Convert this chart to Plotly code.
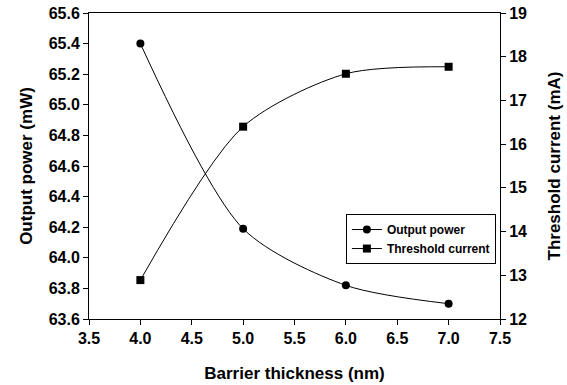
import plotly.graph_objects as go

thickness = [4.0, 5.0, 6.0, 7.0]
output_power = [65.40, 64.19, 63.82, 63.70]
threshold_current = [12.89, 16.40, 17.61, 17.77]

x_ticks = [3.5, 4.0, 4.5, 5.0, 5.5, 6.0, 6.5, 7.0, 7.5]
y1_ticks = [63.6, 63.8, 64.0, 64.2, 64.4, 64.6, 64.8, 65.0, 65.2, 65.4, 65.6]
y2_ticks = [12, 13, 14, 15, 16, 17, 18, 19]

FONT = "Arial"

fig = go.Figure()
fig.add_trace(go.Scatter(
    x=thickness, y=output_power, name="Output power",
    mode="lines+markers", line=dict(color="black", width=1, shape="spline", smoothing=0.8),
    marker=dict(symbol="circle", size=8, color="black"),
))
fig.add_trace(go.Scatter(
    x=thickness, y=threshold_current, name="Threshold current", yaxis="y2",
    mode="lines+markers", line=dict(color="black", width=1, shape="spline", smoothing=0.8),
    marker=dict(symbol="square", size=8, color="black"),
))

tickfont = dict(family=FONT, size=16, color="black", weight=700)
titlefont = dict(family=FONT, size=17, color="black", weight=700)

fig.update_layout(
    width=567, height=385,
    margin=dict(l=89, r=67, t=13, b=66, autoexpand=False),
    paper_bgcolor="white", plot_bgcolor="white",
    showlegend=True,
    legend=dict(
        x=0.625, y=0.343, xanchor="left", yanchor="top",
        bordercolor="black", borderwidth=1, bgcolor="white",
        font=dict(family=FONT, size=12, color="black", weight=700),
        tracegroupgap=0, itemwidth=30,
    ),
    xaxis=dict(
        range=[3.5, 7.5], tickvals=x_ticks, ticktext=[f"{v:.1f}" for v in x_ticks],
        showline=True, linecolor="black", linewidth=1, mirror=True, automargin=False,
        ticks="outside", ticklen=5, tickcolor="black", showgrid=False, zeroline=False,
        tickfont=tickfont,
        title=dict(text="Barrier thickness (nm)", font=titlefont, standoff=20),
    ),
    yaxis=dict(
        range=[63.6, 65.6], tickvals=y1_ticks, ticktext=[f"{v:.1f}" for v in y1_ticks],
        showline=True, linecolor="black", linewidth=1, automargin=False,
        ticks="outside", ticklen=5, tickcolor="black", showgrid=False, zeroline=False,
        tickfont=tickfont,
        title=dict(text="Output power (mW)", font=titlefont, standoff=11),
    ),
    yaxis2=dict(
        range=[12, 19], tickvals=y2_ticks, ticktext=[f"{v}" for v in y2_ticks],
        overlaying="y", side="right", automargin=False,
        showline=True, linecolor="black", linewidth=1,
        ticks="outside", ticklen=5, tickcolor="black", showgrid=False, zeroline=False,
        tickfont=tickfont,
        title=dict(text="Threshold current (mA)", font=titlefont, standoff=22),
    ),
)

fig.write_html("out.html")
